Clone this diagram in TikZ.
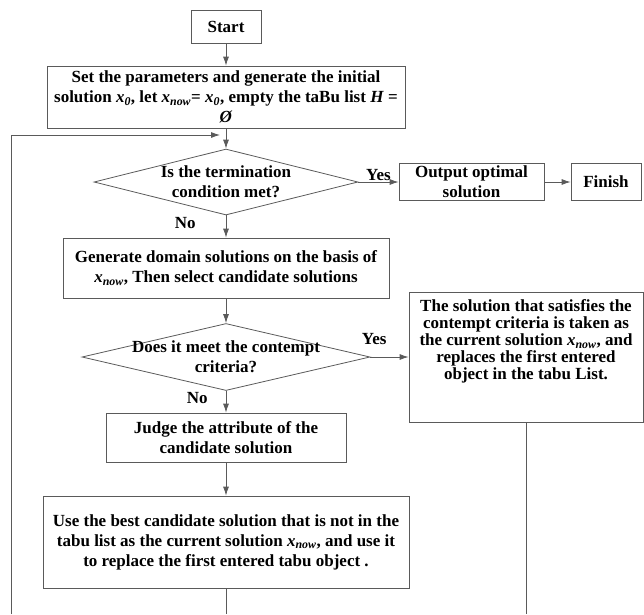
\documentclass[tikz,border=0pt]{standalone}
\usepackage{fontspec}
\setmainfont{Liberation Serif}
\usetikzlibrary{positioning,arrows.meta,shapes.geometric}
\definecolor{linegray}{RGB}{90,90,90}
\newcommand{\xsub}[1]{\textit{x}\textsubscript{\textit{#1}}}
\tikzset{
    on grid,
    block/.style = {
        draw=linegray,
        shape=rectangle,
        line width=0.8pt,
        inner sep=0pt,
        align=center,
        font=\bfseries\fontsize{17}{20}\selectfont
    },
    decision/.style = {
        draw=linegray,
        shape=diamond,
        aspect=4,
        inner xsep=-40pt,
        inner ysep=0pt,
        line width=0.8pt,
        align=center,
        font=\bfseries\fontsize{17}{20}\selectfont
    },
    tag/.style = {
        inner sep=0pt,
        font=\bfseries\fontsize{17}{20}\selectfont
    },
    link/.style = {
        draw=linegray,
        line width=0.8pt
    },
    >={Latex[length=9pt,width=6pt]},
}
\begin{document}
\begin{tikzpicture}[x=1pt,y=-1pt]
        \useasboundingbox (0,0) rectangle (644,614);

        \node[block, minimum width=70pt, minimum height=33pt] (start) at (226,26.5) {Start};
        \node[block, below=70.5pt of start, minimum width=358pt, minimum height=62pt] (init)
            {Set the parameters and generate the initial\\solution \xsub{0}, let \xsub{now}= \xsub{0}, empty the taBu list \textit{H} =\\\textit{Ø}};
        \node[decision, below=85pt of init, minimum width=264pt, minimum height=66pt] (dia1)
            {Is the termination\\condition met?};
        \node[block, right=245.5pt of dia1, minimum width=145pt, minimum height=37pt] (out) {Output optimal\\solution};
        \node[block, right=134.5pt of out, minimum width=70pt, minimum height=37pt] (fin) {Finish};

        \node[block, below=86pt of dia1, minimum width=326pt, minimum height=60pt] (gen)
            {Generate domain solutions on the basis of\\\xsub{now}, Then select candidate solutions};
        \node[decision, below=89pt of gen, minimum width=288pt, minimum height=67pt] (dia2)
            {Does it meet the contempt\\criteria?};
        \node[block, right=300pt of dia2, minimum width=234pt, minimum height=130pt,
            font=\bfseries\fontsize{17}{17}\selectfont] (sat)
            {The solution that satisfies the\\contempt criteria is taken as\\the current solution \xsub{now}, and\\replaces the first entered\\object in the tabu List.\\[18pt]\mbox{}};
        \node[block, below=80.5pt of dia2, minimum width=240pt, minimum height=49pt] (judge)
            {Judge the attribute of the\\candidate solution};
        \node[block, below=104.5pt of judge, minimum width=366pt, minimum height=92pt] (use)
            {Use the best candidate solution that is not in the\\tabu list as the current solution \xsub{now}, and use it\\to replace the first entered tabu object .};

        \coordinate (bot) at (11,614);
        \coordinate (loop) at (220,135);

        \path[link, ->] (start) -- (init);
        \path[link, ->] (init) -- (dia1);
        \path[link, ->] (dia1) -- node[tag, above=1pt] {Yes} (out);
        \path[link, ->] (out) -- (fin);
        \path[link, ->] (dia1) -- node[tag, pos=0.35, left=30pt] {No} (gen);
        \path[link, ->] (gen) -- (dia2);
        \path[link, ->] (dia2) -- node[tag, pos=0.1, above=12pt] {Yes} (sat);
        \path[link, ->] (dia2) -- node[tag, pos=0.35, left=18pt] {No} (judge);
        \path[link, ->] (judge) -- (use);

        \path[link] (use) -- (use |- bot);
        \path[link] (sat) -- (sat |- bot);
        \path[link, ->] (bot) |- (loop);
    \end{tikzpicture}
\end{document}
